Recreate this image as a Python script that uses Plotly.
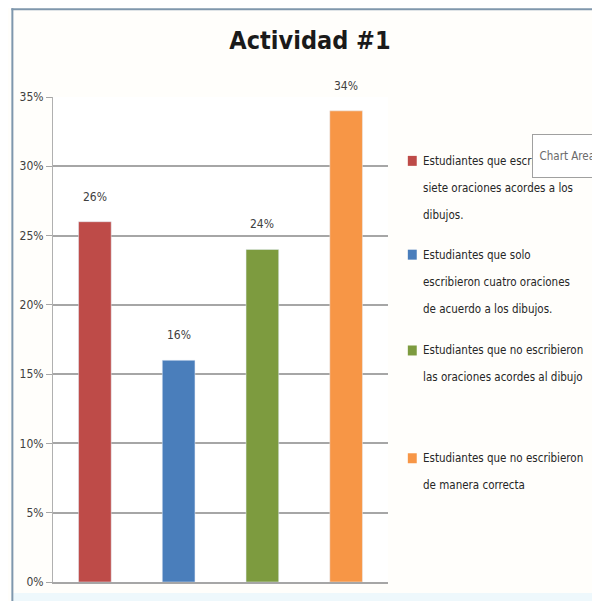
import plotly.graph_objects as go

# datos de la grafica
categorias = ["A", "B", "C", "D"]
valores = [26, 16, 24, 34]
etiquetas = ["26%", "16%", "24%", "34%"]
colores = ["#BE4B48", "#4A7EBB", "#7D9B3F", "#F79646"]
leyenda = [
    ["Estudiantes que escribieron las", "siete oraciones acordes a los", "dibujos."],
    ["Estudiantes que solo", "escribieron cuatro oraciones", "de acuerdo a los dibujos."],
    ["Estudiantes que no escribieron", "las oraciones acordes al dibujo"],
    ["Estudiantes que no escribieron", "de manera correcta"],
]
ticks_y = [0, 5, 10, 15, 20, 25, 30, 35]
ticks_txt = ["0%", "5%", "10%", "15%", "20%", "25%", "30%", "35%"]

FUENTE = "Liberation Sans Narrow, DejaVu Sans Condensed, sans-serif"
# la pagina tiene 8px de margen en el body
OFF = 8
W, H = 592, 593
L, R, T, B = 42, 212, 89, 18

# pixel de la referencia -> coordenadas paper
def px(x):
    return (x - OFF - L) / (W - L - R)

def py(y):
    return (H - B - (y - OFF)) / (H - T - B)

fig = go.Figure()
for i in range(len(categorias)):
    fig.add_trace(go.Bar(x=[categorias[i]], y=[valores[i]], marker_color=colores[i],
                         width=0.39, showlegend=False))

annotations = []
for i in range(len(categorias)):
    annotations.append(dict(x=categorias[i], y=valores[i], xref="x", yref="y",
                            text=etiquetas[i], showarrow=False, yanchor="bottom",
                            yshift=16, font=dict(family=FUENTE, size=12, color="#404040")))

# leyenda a mano (lineas separadas para el interlineado)
shapes = []
y_items = [161, 255, 351, 459]
for i, lineas in enumerate(leyenda):
    y0 = y_items[i]
    shapes.append(dict(type="rect", xref="paper", yref="paper",
                       x0=px(408), x1=px(417), y0=py(y0 + 5), y1=py(y0 - 5),
                       fillcolor=colores[i], line_width=0))
    for j, linea in enumerate(lineas):
        annotations.append(dict(x=px(421), y=py(y0 + j * 27), xref="paper", yref="paper",
                                text=linea, showarrow=False, xanchor="left", yanchor="middle",
                                font=dict(family=FUENTE, size=11.5, color="#262626")))

# cuadro "Chart Area" (encima del texto de la leyenda)
annotations.append(dict(x=px(533), y=py(134), xref="paper", yref="paper",
                        text="&nbsp;&nbsp;Chart Area",
                        showarrow=False, xanchor="left", yanchor="top", width=90, height=42,
                        align="left", valign="middle", borderpad=0, bgcolor="white",
                        bordercolor="#a0a0a0", borderwidth=1,
                        font=dict(family=FUENTE, size=11.5, color="#6a6a6a")))

# marco de la ventana
shapes.append(dict(type="line", xref="paper", yref="paper", x0=px(8), x1=px(610),
                   y0=py(9), y1=py(9), line=dict(color="#7f97ad", width=2)))
shapes.append(dict(type="line", xref="paper", yref="paper", x0=px(9), x1=px(9),
                   y0=py(8), y1=py(610), line=dict(color="#7f97ad", width=2)))
shapes.append(dict(type="rect", xref="paper", yref="paper", x0=px(10), x1=px(610),
                   y0=py(610), y1=py(594), fillcolor="#eef8fc", line_width=0, layer="below"))

fig.update_layout(
    width=W, height=H,
    margin=dict(l=L, r=R, t=T, b=B),
    paper_bgcolor="#fffefb",
    plot_bgcolor="white",
    barmode="overlay",
    title=dict(text="<b>Actividad #1</b>", x=(310 - OFF) / W, xanchor="center",
               y=1 - (40 - OFF) / H, yanchor="middle",
               font=dict(family=FUENTE, size=25, color="#1a1a1a")),
    xaxis=dict(showticklabels=False, ticks="", showgrid=False, showline=True,
               linecolor="#a6a6a6", linewidth=1.5),
    yaxis=dict(range=[0, 35], tickvals=ticks_y, ticktext=ticks_txt, showgrid=True,
               gridcolor="#a6a6a6", gridwidth=1.5, showline=True, linecolor="#b0b0b0",
               ticks="outside", ticklen=6, tickcolor="#a6a6a6", zeroline=False,
               tickfont=dict(family=FUENTE, size=12, color="#404040")),
    annotations=annotations,
    shapes=shapes,
)

fig.write_html("out.html")
